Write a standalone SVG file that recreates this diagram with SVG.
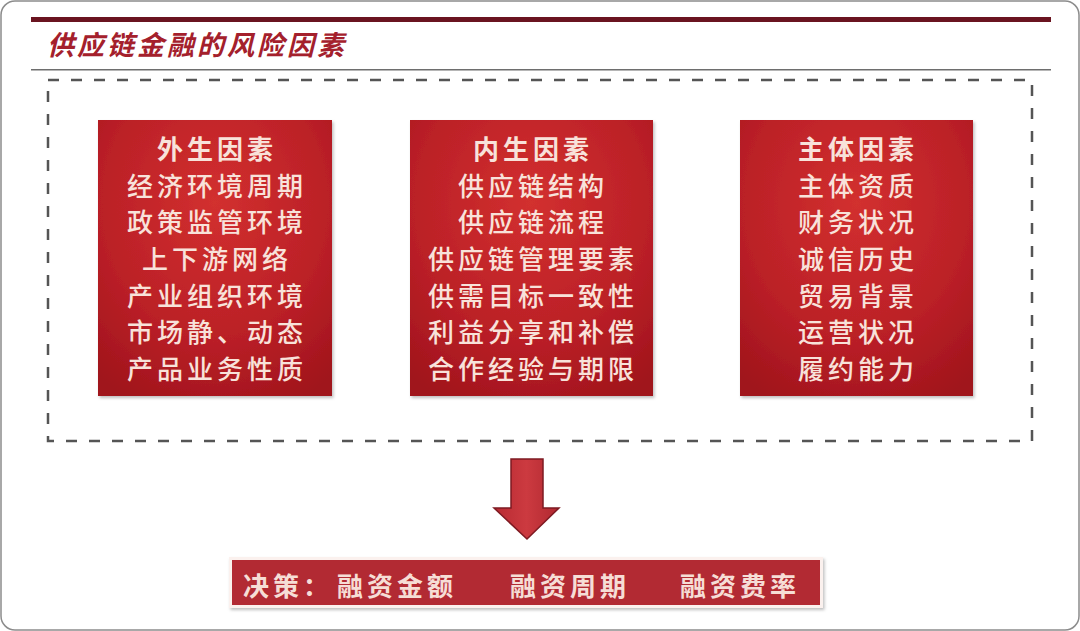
<svg xmlns="http://www.w3.org/2000/svg" width="1080" height="631" viewBox="0 0 1080 631">
<defs>
<radialGradient id="boxGrad" cx="0.5" cy="0.3" r="0.8">
<stop offset="0" stop-color="#d2302f"/>
<stop offset="0.6" stop-color="#bb2027"/>
<stop offset="1" stop-color="#a0141c"/>
</radialGradient>
<linearGradient id="arrowGrad" x1="0" y1="0" x2="1" y2="0">
<stop offset="0" stop-color="#b82a32"/>
<stop offset="0.5" stop-color="#cc3a40"/>
<stop offset="1" stop-color="#b02830"/>
</linearGradient>
<filter id="shadow" x="-10%" y="-10%" width="120%" height="120%">
<feDropShadow dx="1.5" dy="2" stdDeviation="1.5" flood-color="#000" flood-opacity="0.25"/>
</filter>
</defs>
<style>
.box{fill:url(#boxGrad);filter:url(#shadow);}
.t{font-family:"Noto Sans CJK SC","Noto Sans CJK TC",sans-serif;font-size:26px;fill:#f8e2da;text-anchor:middle;dominant-baseline:central;letter-spacing:4px;font-weight:500;}
.h{font-weight:700;}
.bt{font-family:"Noto Sans CJK SC","Noto Sans CJK TC",sans-serif;font-size:26px;fill:#f6ddd6;dominant-baseline:central;letter-spacing:4px;font-weight:700;}
</style>
<rect x="1" y="1" width="1078" height="629" rx="14" ry="14" fill="#ffffff" stroke="#8c8c8c" stroke-width="1.5"/>
<rect x="31" y="17" width="1020" height="5" fill="#6a1420"/>
<text x="47" y="43" font-family="'Noto Sans CJK SC','Noto Sans CJK TC',sans-serif" font-size="27" font-style="italic" font-weight="700" fill="#a4202c" letter-spacing="3" dominant-baseline="central">供应链金融的风险因素</text>
<rect x="31" y="69" width="1020" height="1.5" fill="#6e6e6e"/>
<rect x="48" y="80" width="984" height="361" fill="none" stroke="#555555" stroke-width="2.5" stroke-dasharray="11 12"/>

<g id="node-exogenous">
<rect class="box" x="98" y="120" width="234" height="276"/>
<text class="t h" x="217" y="147">外生因素</text>
<text class="t" x="217" y="184">经济环境周期</text>
<text class="t" x="217" y="220">政策监管环境</text>
<text class="t" x="217" y="257">上下游网络</text>
<text class="t" x="217" y="294">产业组织环境</text>
<text class="t" x="217" y="330">市场静、动态</text>
<text class="t" x="217" y="367">产品业务性质</text>
</g>

<g id="node-endogenous">
<rect class="box" x="410" y="120" width="243" height="276"/>
<text class="t h" x="533" y="147">内生因素</text>
<text class="t" x="533" y="184">供应链结构</text>
<text class="t" x="533" y="220">供应链流程</text>
<text class="t" x="533" y="257">供应链管理要素</text>
<text class="t" x="533" y="294">供需目标一致性</text>
<text class="t" x="533" y="330">利益分享和补偿</text>
<text class="t" x="533" y="367">合作经验与期限</text>
</g>

<g id="node-subject">
<rect class="box" x="740" y="120" width="233" height="276"/>
<text class="t h" x="858" y="147">主体因素</text>
<text class="t" x="858" y="184">主体资质</text>
<text class="t" x="858" y="220">财务状况</text>
<text class="t" x="858" y="257">诚信历史</text>
<text class="t" x="858" y="294">贸易背景</text>
<text class="t" x="858" y="330">运营状况</text>
<text class="t" x="858" y="367">履约能力</text>
</g>

<g id="connectors">
<polygon points="511,459 543,459 543,508 559,508 527,539 494,508 511,508" fill="url(#arrowGrad)" stroke="#7e1a22" stroke-width="1.5" stroke-linejoin="miter"/>
</g>

<g id="node-decision">
<rect x="229" y="557" width="594" height="51" fill="#fbf1ee" filter="url(#shadow)"/>
<rect x="232" y="560" width="588" height="45" fill="#b22a33"/>
<text class="bt" x="243" y="584">决策：</text>
<text class="bt" x="337" y="584">融资金额</text>
<text class="bt" x="510" y="584">融资周期</text>
<text class="bt" x="680" y="584">融资费率</text>
</g>
</svg>
